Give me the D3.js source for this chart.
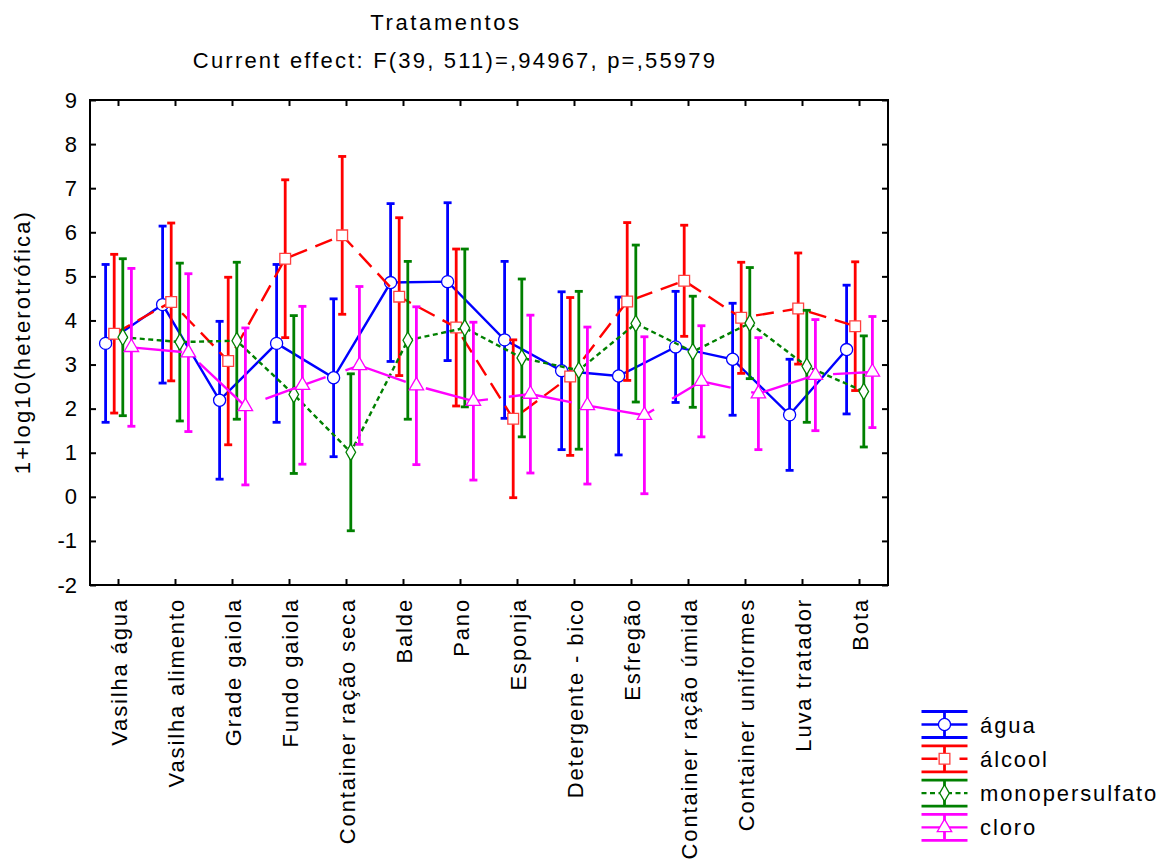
<!DOCTYPE html>
<html>
<head>
<meta charset="utf-8">
<script src="https://cdn.jsdelivr.net/npm/d3@7"></script>
<style>
  html, body { margin: 0; padding: 0; background: #fff; }
  svg text { font-family: "Liberation Sans", Arial, sans-serif; fill: #000; }
</style>
</head>
<body>
<svg id="chart" width="1169" height="863"></svg>
<script>
// ---- data ----
const categories = ["Vasilha água","Vasilha alimento","Grade gaiola","Fundo gaiola","Container ração seca","Balde","Pano","Esponja","Detergente - bico","Esfregão","Container ração úmida","Container uniformes","Luva tratador","Bota"];
const seriesNames = ["água","álcool","monopersulfato","cloro"];
const aguaMean = [3.48, 4.36, 2.19, 3.48, 2.70, 4.86, 4.88, 3.56, 2.86, 2.74, 3.40, 3.12, 1.86, 3.34];
const aguaErr  = [1.79, 1.78, 1.79, 1.79, 1.79, 1.79, 1.79, 1.78, 1.79, 1.79, 1.26, 1.27, 1.26, 1.46];
const alcoolMean = [3.70, 4.42, 3.08, 5.40, 5.93, 4.54, 3.84, 1.77, 2.73, 4.43, 4.90, 4.06, 4.27, 3.87];
const alcoolErr  = [1.80, 1.79, 1.90, 1.79, 1.79, 1.79, 1.78, 1.79, 1.79, 1.79, 1.26, 1.26, 1.26, 1.46];
const monoMean = [3.62, 3.51, 3.54, 2.32, 1.01, 3.55, 3.83, 3.15, 2.87, 3.93, 3.29, 3.94, 2.96, 2.39];
const monoErr  = [1.78, 1.79, 1.78, 1.79, 1.78, 1.79, 1.79, 1.79, 1.79, 1.78, 1.26, 1.26, 1.27, 1.26];
const cloroMean = [3.39, 3.27, 2.05, 2.53, 2.98, 2.52, 2.17, 2.33, 2.07, 1.85, 2.62, 2.34, 2.76, 2.83];
const cloroErr  = [1.79, 1.79, 1.78, 1.79, 1.79, 1.79, 1.79, 1.79, 1.78, 1.78, 1.26, 1.27, 1.26, 1.26];
const yTicks = [-2,-1,0,1,2,3,4,5,6,7,8,9];
const titleText = "Tratamentos";
const subtitleText = "Current effect: F(39, 511)=,94967, p=,55979";
const yLabel = "1+log10(heterotrófica)";

// ---- styles ----
const styles = [
  {color:"#0000ff", dash:null,     dashOffset:0,  symbol:d3.symbolCircle,  size:115, mstroke:"#0000ff"},
  {color:"#ff0000", dash:"18,9",   dashOffset:0,  symbol:d3.symbolSquare,  size:115, mstroke:"#ff4040"},
  {color:"#008000", dash:"5,3.5",  dashOffset:0,  symbol:d3.symbolDiamond, size:80,  mstroke:"#008000"},
  {color:"#ff00ff", dash:"64,21",  dashOffset:13, symbol:d3.symbolTriangle,size:90,  mstroke:"#ff00ff"}
];
const series = [
  {name:seriesNames[0], mean:aguaMean, err:aguaErr},
  {name:seriesNames[1], mean:alcoolMean, err:alcoolErr},
  {name:seriesNames[2], mean:monoMean, err:monoErr},
  {name:seriesNames[3], mean:cloroMean, err:cloroErr}
];

const svg = d3.select("#chart");
const L = 90, R = 888, T = 100, B = 585;
const x = d3.scaleBand().domain(categories).range([L, R]);
const y = d3.scaleLinear().domain([-2, 9]).range([B, T]);
const off = d3.scaleLinear().domain([0, 3]).range([-12.9, 12.9]);
const cx = (c, si) => x(c) + x.bandwidth() / 2 + off(si);

// Titles
svg.append("text").attr("x", 446).attr("y", 30).attr("text-anchor", "middle")
  .style("font-size", "22px").style("letter-spacing", "2.6px").text(titleText);
svg.append("text").attr("x", 455).attr("y", 68).attr("text-anchor", "middle")
  .style("font-size", "22px").style("letter-spacing", "2.2px").text(subtitleText);

// Axes (ticks inward on all sides)
const tl = 6;
const axL = d3.axisLeft(y).tickValues(yTicks).tickSize(-tl).tickPadding(13).tickFormat(d => String(d));
const axR = d3.axisRight(y).tickValues(yTicks).tickSize(-tl).tickFormat("");
const axB = d3.axisBottom(x).tickSize(-tl).tickFormat("");
const axT = d3.axisTop(x).tickSize(-tl).tickFormat("");
function styleAxis(g) {
  g.select(".domain").remove();
  g.selectAll(".tick line").attr("stroke", "#000").attr("stroke-width", 2);
  g.selectAll(".tick text").style("font-size", "22px").style("font-family", "'Liberation Sans', Arial, sans-serif");
}
svg.append("g").attr("transform", `translate(${L},0)`).call(axL).call(styleAxis);
svg.append("g").attr("transform", `translate(${R},0)`).call(axR).call(styleAxis);
svg.append("g").attr("transform", `translate(0,${B})`).call(axB).call(styleAxis);
svg.append("g").attr("transform", `translate(0,${T})`).call(axT).call(styleAxis);

// Category labels (rotated)
svg.append("g").selectAll("text").data(categories).join("text")
  .attr("transform", d => `translate(${x(d) + x.bandwidth()/2 + 8},${598}) rotate(-90)`)
  .attr("text-anchor", "end")
  .style("font-size", "22px").style("letter-spacing", "1.85px")
  .text(d => d);

// Y label
svg.append("text").attr("transform", "translate(30,342) rotate(-90)")
  .attr("text-anchor", "middle").style("font-size", "22px").style("letter-spacing", "2.2px")
  .text(yLabel);

// Plot series
const plot = svg.append("g");
series.forEach((s, si) => {
  const st = styles[si];
  const g = plot.append("g");
  const line = d3.line().x((d, i) => cx(categories[i], si)).y(d => y(d));
  g.append("path").datum(s.mean).attr("d", line)
    .attr("fill", "none").attr("stroke", st.color).attr("stroke-width", 2.4)
    .attr("stroke-dasharray", st.dash).attr("stroke-dashoffset", st.dashOffset);
  // error bars
  const eb = g.append("g").attr("stroke", st.color).attr("stroke-width", 2.8).attr("fill", "none");
  s.mean.forEach((m, i) => {
    const xx = cx(categories[i], si);
    const lo = y(m - s.err[i]), hi = y(m + s.err[i]);
    eb.append("line").attr("x1", xx).attr("x2", xx).attr("y1", lo).attr("y2", hi);
    eb.append("line").attr("x1", xx - 4).attr("x2", xx + 4).attr("y1", lo).attr("y2", lo);
    eb.append("line").attr("x1", xx - 4).attr("x2", xx + 4).attr("y1", hi).attr("y2", hi);
  });
  // markers
  g.append("g").selectAll("path").data(s.mean).join("path")
    .attr("transform", (d, i) => `translate(${cx(categories[i], si)},${y(d)})`)
    .attr("d", d3.symbol().type(st.symbol).size(st.size))
    .attr("fill", "#fff").attr("stroke", st.mstroke).attr("stroke-width", 1.3);
});

// Frame
svg.append("rect").attr("x", L).attr("y", T).attr("width", R - L).attr("height", B - T)
  .attr("fill", "none").attr("stroke", "#000").attr("stroke-width", 2);

// Legend
const lg = svg.append("g");
const legX1 = 921.5, legX2 = 967.5, legXM = 944.5, legY0 = 724.5, legStep = 34.3;
series.forEach((s, si) => {
  const st = styles[si];
  const yy = legY0 + si * legStep;
  const g = lg.append("g");
  g.append("line").attr("x1", legX1).attr("x2", legX2).attr("y1", yy - 13).attr("y2", yy - 13)
    .attr("stroke", st.color).attr("stroke-width", 2.8);
  g.append("line").attr("x1", legX1).attr("x2", legX2).attr("y1", yy + 13).attr("y2", yy + 13)
    .attr("stroke", st.color).attr("stroke-width", 2.8);
  g.append("line").attr("x1", legXM).attr("x2", legXM).attr("y1", yy - 13).attr("y2", yy + 13)
    .attr("stroke", st.color).attr("stroke-width", 2.8);
  g.append("line").attr("x1", legX1).attr("x2", legX2).attr("y1", yy).attr("y2", yy)
    .attr("stroke", st.color).attr("stroke-width", 2.4)
    .attr("stroke-dasharray", si === 1 ? "16,22" : (si === 3 ? "19,8" : st.dash));
  g.append("path").attr("transform", `translate(${legXM},${yy})`)
    .attr("d", d3.symbol().type(st.symbol).size(st.size))
    .attr("fill", "#fff").attr("stroke", st.mstroke).attr("stroke-width", 1.3);
  g.append("text").attr("x", 980).attr("y", yy + 8)
    .style("font-size", "22px").style("letter-spacing", "1.9px").text(s.name);
});
</script>
</body>
</html>
